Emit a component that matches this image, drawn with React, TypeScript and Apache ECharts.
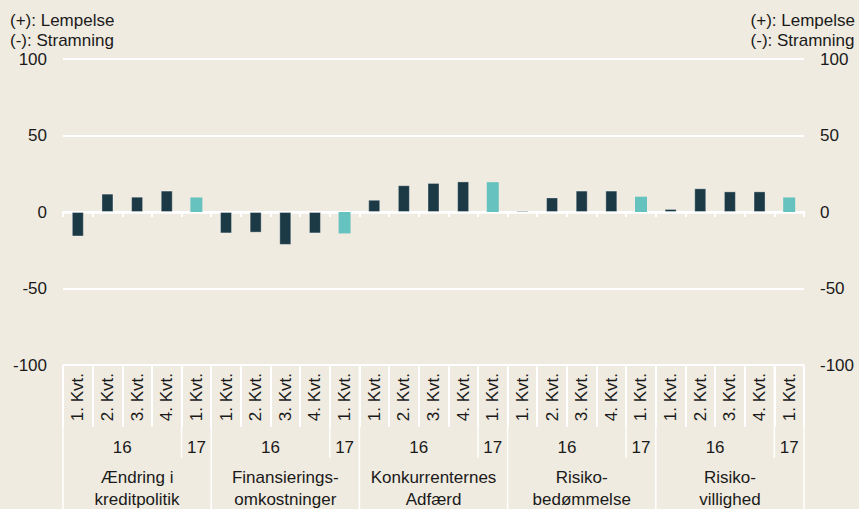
import React, { useEffect, useRef } from "react";
import * as echarts from "echarts";

const quarters = ["1. Kvt.", "2. Kvt.", "3. Kvt.", "4. Kvt.", "1. Kvt."];
const years = ["16", "17"];
const groups = [
  "Ændring i\nkreditpolitik",
  "Finansierings-\nomkostninger",
  "Konkurrenternes\nAdfærd",
  "Risiko-\nbedømmelse",
  "Risiko-\nvillighed",
];
const kreditpolitik = [-16, 12, 10, 14, 9.5];
const finansiering = [-14, -13.5, -21.5, -14, -14];
const konkurrence = [8, 17.5, 19, 20, 19.5];
const risikobedoemmelse = [1, 9.5, 14, 14, 10];
const risikovillighed = [2, 15.5, 13.5, 13.5, 9.5];
const yTicks = { min: -100, max: 100, interval: 50 };
const legendText = "(+): Lempelse\n(-): Stramning";

const DARK = "#1b3a46";
const TEAL = "#66c2bf";
const BG = "#f0ebe0";
const TXT = "#1a1a1a";
const FONT = "Liberation Sans";
const FS = 17;

export default function App() {
  const ref = useRef<HTMLDivElement>(null);
  useEffect(() => {
    if (!ref.current) return;
    const chart = echarts.init(ref.current, null, { renderer: "svg" });
    const values = [
      ...kreditpolitik,
      ...finansiering,
      ...konkurrence,
      ...risikobedoemmelse,
      ...risikovillighed,
    ];
    const cats = groups.flatMap((g, gi) => quarters.map((q, qi) => `${gi}-${qi}`));
    const data = values.map((v, i) => ({
      value: v,
      itemStyle:
        i % 5 === 4
          ? { color: TEAL }
          : { color: DARK, borderColor: "rgba(255,255,255,0.35)", borderWidth: 1 },
    }));
    const yAxisBase = {
      type: "value" as const,
      min: yTicks.min,
      max: yTicks.max,
      interval: yTicks.interval,
      axisLine: { show: false },
      axisTick: { show: false },
      axisLabel: { fontSize: FS, color: TXT, fontFamily: FONT, margin: 16 },
    };
    chart.setOption({
      animation: false,
      backgroundColor: BG,
      textStyle: { fontFamily: FONT },
      title: [
        {
          text: legendText,
          left: 10,
          top: 10,
          padding: 0,
          textStyle: { fontSize: FS, fontWeight: "normal", color: TXT, fontFamily: FONT, lineHeight: 20 },
        },
        {
          text: legendText,
          right: 4,
          top: 10,
          padding: 0,
          textAlign: "left",
          textStyle: { fontSize: FS, fontWeight: "normal", color: TXT, fontFamily: FONT, lineHeight: 20, align: "right" },
        },
      ],
      grid: { left: 63, right: 55, top: 59, bottom: 144, containLabel: false },
      xAxis: [
        {
          type: "category",
          data: cats,
          axisLine: { onZero: true, lineStyle: { color: "#ffffff", width: 2.5 } },
          axisTick: { show: true, length: 5, lineStyle: { color: "#ffffff", width: 2 } },
          axisLabel: { show: false },
        },
        {
          type: "category",
          data: cats,
          position: "bottom",
          axisLine: { show: false, onZero: false },
          axisTick: { show: true, length: 62, lineStyle: { color: "#ffffff", width: 2 } },
          axisLabel: {
            show: true,
            rotate: 90,
            margin: 8,
            interval: 0,
            fontSize: FS,
            color: TXT,
            fontFamily: FONT,
            formatter: (v: string) => quarters[Number(v.split("-")[1])],
          },
        },
      ],
      yAxis: [
        {
          ...yAxisBase,
          position: "left",
          splitLine: { show: true, lineStyle: { color: "#ffffff", width: 2 } },
        },
        { ...yAxisBase, position: "right", splitLine: { show: false } },
      ],
      series: [
        {
          type: "bar",
          xAxisIndex: 0,
          yAxisIndex: 0,
          barWidth: 12,
          data,
        },
      ],
    });

    const cx = (i: number) => chart.convertToPixel({ xAxisIndex: 0 }, i) as number;
    const band = cx(1) - cx(0);
    const yb = chart.convertToPixel({ yAxisIndex: 0 }, yTicks.min) as number;
    const H = 509;
    const graphics: any[] = [];
    const vline = (x: number, y1: number, y2: number, w: number) =>
      graphics.push({
        type: "line",
        shape: { x1: x, y1, x2: x, y2 },
        style: { stroke: "#ffffff", lineWidth: w },
        silent: true,
      });
    groups.forEach((g, gi) => {
      const first = gi * 5;
      const left = cx(first) - band / 2;
      vline(left, yb, H, 1.5);
      const yrBoundary = cx(first + 4) - band / 2;
      vline(yrBoundary, yb, yb + 93, 1.5);
      graphics.push({
        type: "text",
        x: (cx(first + 1) + cx(first + 2)) / 2,
        y: yb + 82,
        style: { text: years[0], fontSize: FS, fill: TXT, fontFamily: FONT, align: "center", verticalAlign: "middle" },
        silent: true,
      });
      graphics.push({
        type: "text",
        x: cx(first + 4),
        y: yb + 82,
        style: { text: years[1], fontSize: FS, fill: TXT, fontFamily: FONT, align: "center", verticalAlign: "middle" },
        silent: true,
      });
      graphics.push({
        type: "text",
        x: cx(first + 2),
        y: yb + 123,
        style: {
          text: g,
          fontSize: FS,
          fill: TXT,
          fontFamily: FONT,
          align: "center",
          verticalAlign: "middle",
          lineHeight: 22,
        },
        silent: true,
      });
    });
    vline(cx(cats.length - 1) + band / 2, yb, H, 1.5);
    chart.setOption({ graphic: graphics });

    return () => chart.dispose();
  }, []);
  return (
    <div
      ref={ref}
      style={{ position: "fixed", left: 0, top: 0, width: 859, height: 509 }}
    />
  );
}
